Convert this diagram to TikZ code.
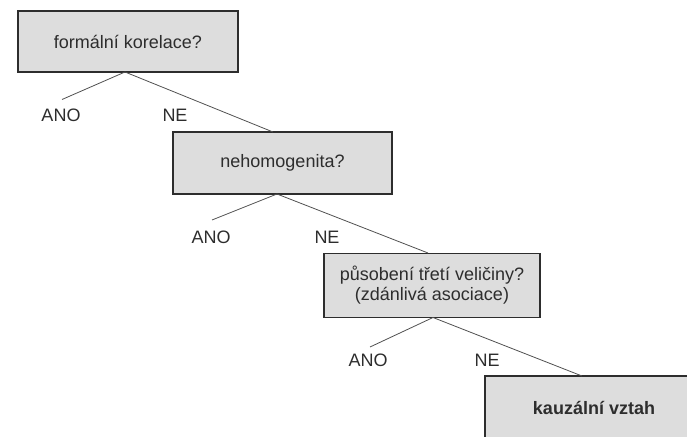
\documentclass[tikz,border=0pt]{standalone}
\usepackage{fontspec}
\setmainfont{Liberation Sans}
\definecolor{boxfill}{RGB}{221,221,221}
\definecolor{ink}{RGB}{45,45,45}
\definecolor{linec}{RGB}{80,80,80}
\begin{document}
\begin{tikzpicture}[x=1pt,y=-1pt,
  qbox/.style={draw=ink, line width=1.3pt, fill=boxfill, text=ink,
    inner sep=0pt, font=\fontsize{18}{20}\selectfont, align=center},
  lbl/.style={text=ink, inner sep=0pt, font=\fontsize{18}{20}\selectfont},
  conn/.style={draw=linec, line width=0.8pt}]
\useasboundingbox (0,0) rectangle (687,436);
\begin{scope}
\clip (0,0) rectangle (687,436);
% boxes
\node[qbox, minimum width=220pt, minimum height=61pt] (b1) at (128,41.5) {formální korelace?};
\node[qbox, minimum width=219pt, minimum height=62pt] (b2) at (282.5,163) {nehomogenita?};
\node[qbox, minimum width=216pt, minimum height=64pt] (b3) at (432,285.5) {působení třetí veličiny?\\(zdánlivá asociace)};
\node[qbox, minimum width=218pt, minimum height=64pt, font=\bfseries\fontsize{18}{20}\selectfont] (b4) at (594,408) {kauzální vztah};
% branch points
\coordinate (o1) at (125,72);
\coordinate (a1) at (62,99.5);
\coordinate (n1) at (273,132);
\coordinate (o2) at (277,194);
\coordinate (a2) at (212,220);
\coordinate (n2) at (428,253);
\coordinate (o3) at (433,317.5);
\coordinate (a3) at (370,347);
\coordinate (n3) at (582,376);
% connectors
\draw[conn] (o1) -- (a1);
\draw[conn] (o1) -- (n1);
\draw[conn] (o2) -- (a2);
\draw[conn] (o2) -- (n2);
\draw[conn] (o3) -- (a3);
\draw[conn] (o3) -- (n3);
% labels
\node[lbl] (ano1) at (61,115) {ANO};
\node[lbl] (ne1) at (175,115) {NE};
\node[lbl] (ano2) at (211,237) {ANO};
\node[lbl] (ne2) at (327,237) {NE};
\node[lbl] (ano3) at (368,360) {ANO};
\node[lbl] (ne3) at (487,360) {NE};
\end{scope}
\end{tikzpicture}
\end{document}
